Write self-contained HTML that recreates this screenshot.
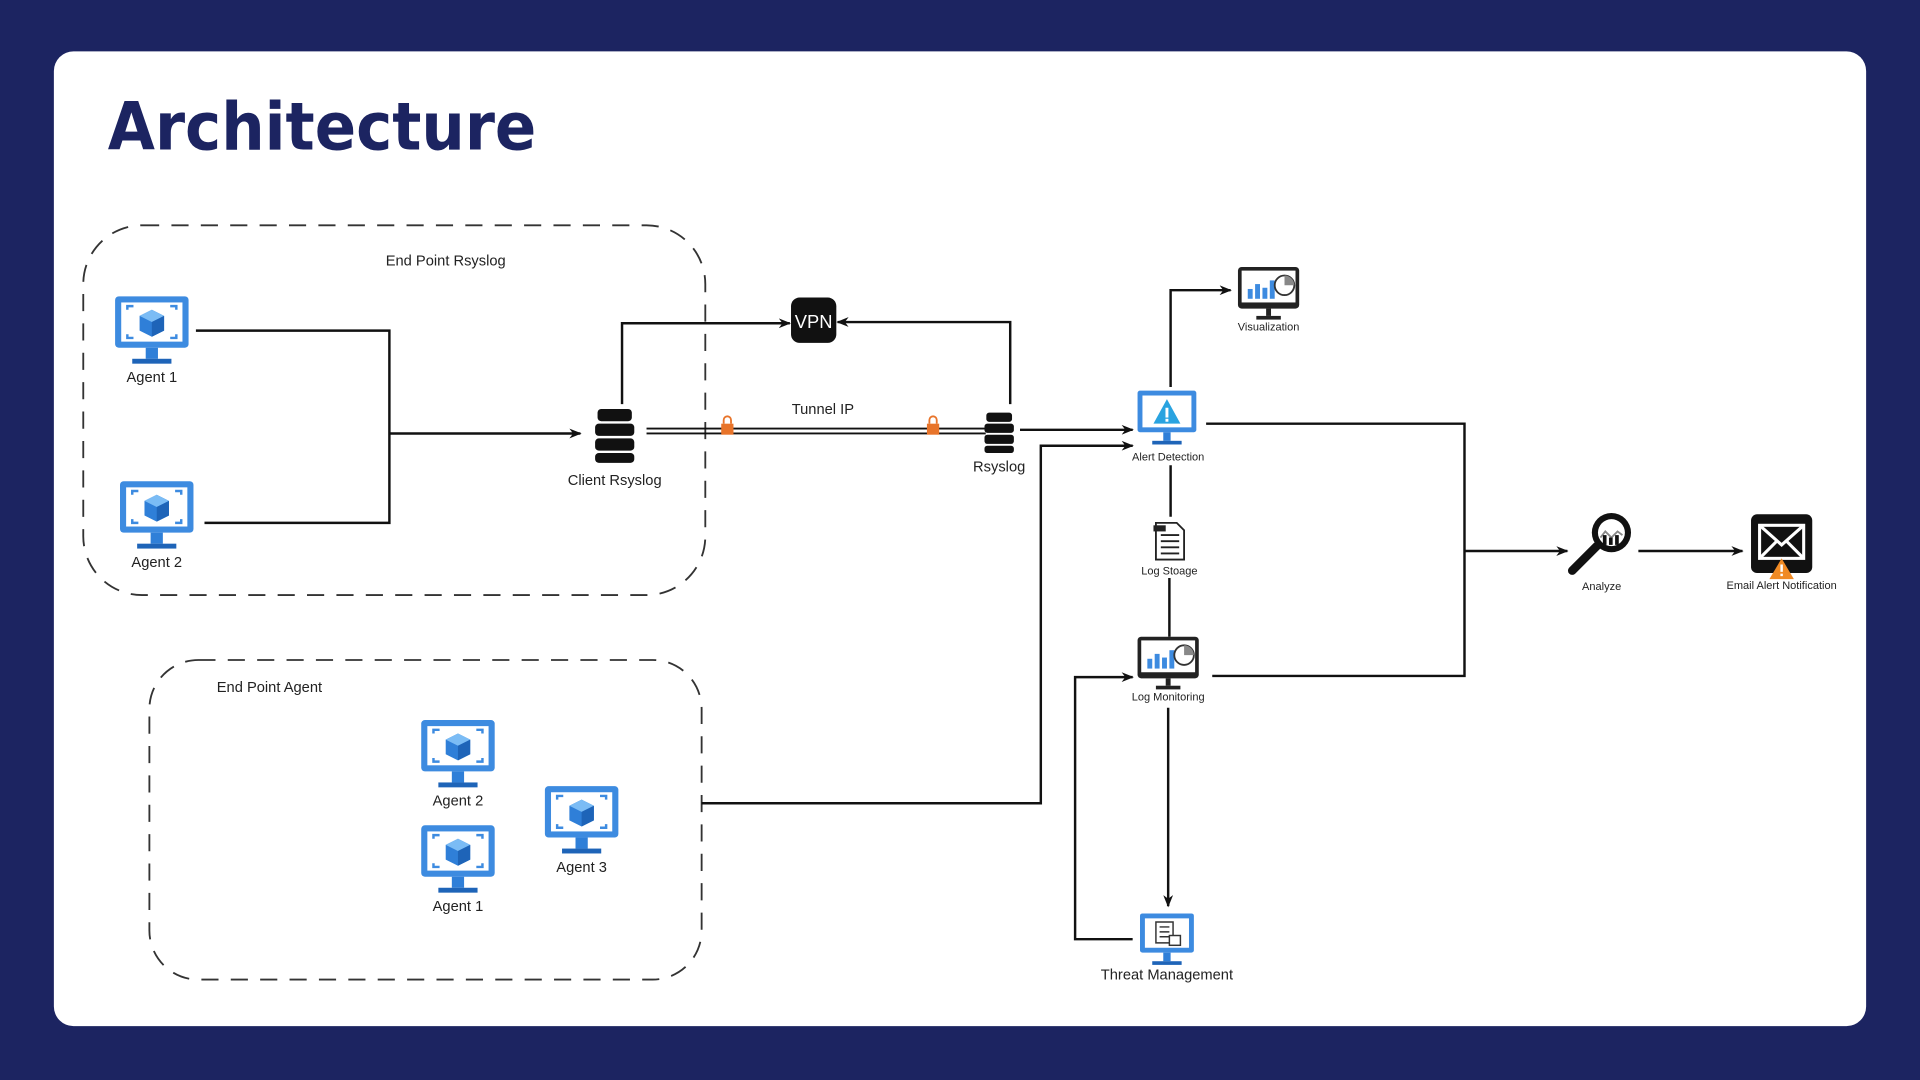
<!DOCTYPE html>
<html><head><meta charset="utf-8"><style>
html,body{margin:0;padding:0;width:1920px;height:1080px;overflow:hidden;background:#1c2461;}
svg{display:block}
text{font-family:"Liberation Sans",sans-serif;fill:#222}
</style></head><body>
<svg width="1920" height="1080" viewBox="0 0 1568 882" xmlns="http://www.w3.org/2000/svg">
<defs>
<marker id="ar" markerWidth="10" markerHeight="8" refX="9" refY="4" orient="auto" markerUnits="userSpaceOnUse"><path d="M0,0 L10,4 L0,8 L3,4 z" fill="#111"/></marker>
<g id="agent">
<rect x="-30" y="-28" width="60" height="42" rx="3" fill="#3d8be0"/>
<rect x="-25" y="-23" width="50" height="32" fill="#fff"/>
<path d="M-20,-17 v-3 h5 M15,-20 h5 v3 M-20,3 v3 h5 M15,6 h5 v-3" stroke="#3d8be0" stroke-width="2" fill="none"/>
<path d="M0,-17 L10,-12 L10,0 L0,5 L-10,0 L-10,-12 z" fill="#2f7fd8"/>
<path d="M0,-17 L10,-12 L0,-7 L-10,-12 z" fill="#7bbcf5"/>
<path d="M0,-7 L10,-12 L10,0 L0,5 z" fill="#1e64b8"/>
<rect x="-5" y="14" width="10" height="9" fill="#2f7fd8"/>
<rect x="-16" y="23" width="32" height="4" fill="#1e64b8"/>
</g>
<g id="server">
<rect x="-14" y="-20" width="28" height="10" rx="3" fill="#111"/>
<rect x="-16" y="-8" width="32" height="10" rx="3" fill="#111"/>
<rect x="-16" y="4" width="32" height="10" rx="3" fill="#111"/>
<rect x="-16" y="16" width="32" height="8" rx="3" fill="#111"/>
</g>
<g id="chartmon">
<rect x="-25" y="-20" width="50" height="34" rx="3" fill="#222"/>
<rect x="-22" y="-17" width="44" height="26" fill="#fff"/>
<rect x="-17" y="-2" width="4" height="8" fill="#3d8be0"/><rect x="-11" y="-6" width="4" height="12" fill="#3d8be0"/><rect x="-5" y="-3" width="4" height="9" fill="#3d8be0"/><rect x="1" y="-9" width="4" height="15" fill="#3d8be0"/>
<circle cx="13" cy="-5" r="8" fill="#fff" stroke="#333" stroke-width="1.5"/><path d="M13,-5 L13,-13 A8,8 0 0,1 21,-5 z" fill="#888"/>
<rect x="-2" y="14" width="4" height="6" fill="#222"/><rect x="-10" y="20" width="20" height="3" fill="#222"/>
</g>
</defs>
<rect x="44" y="42" width="1480" height="796" rx="16" fill="#fff"/>
<text x="88" y="122" font-size="54" font-weight="bold" textLength="350" lengthAdjust="spacingAndGlyphs" style="fill:#1c2461;font-family:'DejaVu Sans',sans-serif">Architecture</text>

<rect x="68" y="184" width="508" height="302" rx="48" fill="none" stroke="#333" stroke-width="1.5" stroke-dasharray="14,10"/>
<rect x="122" y="539" width="451" height="261" rx="40" fill="none" stroke="#333" stroke-width="1.5" stroke-dasharray="14,10"/>
<text x="315" y="217" font-size="12">End Point Rsyslog</text>
<text x="177" y="565" font-size="12">End Point Agent</text>

<g stroke="#111" stroke-width="2" fill="none">
<path d="M160,270 H318 V427 H167"/>
<path d="M318,354 H474" marker-end="url(#ar)"/>
<path d="M508,330 V264 H645" marker-end="url(#ar)"/>
<path d="M825,330 V263 H684" marker-end="url(#ar)"/>
<path d="M528,350 H805 M528,354 H805" stroke-width="1.5"/>
<path d="M833,351 H925" marker-end="url(#ar)"/>
<path d="M956,316 V237 H1005" marker-end="url(#ar)"/>
<path d="M985,346 H1196 V552 H990"/>
<path d="M1196,450 H1280" marker-end="url(#ar)"/>
<path d="M1338,450 H1423" marker-end="url(#ar)"/>
<path d="M956,380 V422 M955,472 V520"/>
<path d="M954,578 V740" marker-end="url(#ar)"/>
<path d="M925,767 H878 V553 H925" marker-end="url(#ar)"/>
<path d="M573,656 H850 V364 H925" marker-end="url(#ar)"/>
</g>

<use href="#agent" x="124" y="270"/><text x="124" y="312" font-size="12" text-anchor="middle">Agent 1</text>
<use href="#agent" x="128" y="421"/><text x="128" y="463" font-size="12" text-anchor="middle">Agent 2</text>
<use href="#agent" x="374" y="616"/><text x="374" y="658" font-size="12" text-anchor="middle">Agent 2</text>
<use href="#agent" x="374" y="702"/><text x="374" y="744" font-size="12" text-anchor="middle">Agent 1</text>
<use href="#agent" x="475" y="670"/><text x="475" y="712" font-size="12" text-anchor="middle">Agent 3</text>

<use href="#server" x="502" y="354"/><text x="502" y="396" font-size="12" text-anchor="middle">Client Rsyslog</text>
<g transform="translate(816,352) scale(0.75)"><use href="#server"/></g><text x="816" y="385" font-size="12" text-anchor="middle">Rsyslog</text>
<text x="672" y="338" font-size="12" text-anchor="middle">Tunnel IP</text>
<rect x="589" y="346" width="10" height="9" fill="#e8742a"/><path d="M591,346 v-3 a3,3 0 0,1 6,0 v3" stroke="#e8742a" fill="none" stroke-width="1.5"/>
<rect x="757" y="346" width="10" height="9" fill="#e8742a"/><path d="M759,346 v-3 a3,3 0 0,1 6,0 v3" stroke="#e8742a" fill="none" stroke-width="1.5"/>

<rect x="646" y="243" width="37" height="37" rx="7" fill="#111"/>
<text x="664.5" y="268" font-size="15" text-anchor="middle" style="fill:#fff">VPN</text>

<use href="#chartmon" x="1036" y="238"/><text x="1036" y="270" font-size="9" text-anchor="middle">Visualization</text>

<g transform="translate(953,340)">
<rect x="-24" y="-21" width="48" height="34" rx="2" fill="#3d8be0"/>
<rect x="-20" y="-17" width="40" height="26" fill="#fff"/>
<path d="M0,-14 L11,6 H-11 z" fill="#29a3e0"/><rect x="-1.2" y="-7" width="2.4" height="8" fill="#fff"/><rect x="-1.2" y="2" width="2.4" height="2.4" fill="#fff"/>
<rect x="-3" y="13" width="6" height="7" fill="#2f7fd8"/><rect x="-12" y="20" width="24" height="3" fill="#1e64b8"/>
</g>
<text x="954" y="376" font-size="9" text-anchor="middle">Alert Detection</text>

<g transform="translate(955,442)">
<path d="M-11,-15 H6 L12,-9 V15 H-11 z" fill="#fff" stroke="#222" stroke-width="1.5"/>
<path d="M-7,-5 H8 M-7,0 H8 M-7,5 H8 M-7,10 H8" stroke="#222" stroke-width="1.5"/>
<rect x="-13" y="-13" width="10" height="5" fill="#222"/>
</g>
<text x="955" y="469" font-size="9" text-anchor="middle">Log Stoage</text>

<use href="#chartmon" x="954" y="540"/><text x="954" y="572" font-size="9" text-anchor="middle">Log Monitoring</text>

<g transform="translate(953,765)">
<rect x="-22" y="-19" width="44" height="32" rx="2" fill="#3d8be0"/>
<rect x="-18" y="-15" width="36" height="24" fill="#fff"/>
<path d="M-9,-12 H5 V5 H-9 z M-6,-8 H2 M-6,-4 H2 M-6,0 H2" stroke="#333" stroke-width="1.2" fill="none"/>
<rect x="2" y="-1" width="9" height="8" fill="#fff" stroke="#333" stroke-width="1.2"/>
<rect x="-3" y="13" width="6" height="7" fill="#2f7fd8"/><rect x="-12" y="20" width="24" height="3" fill="#1e64b8"/>
</g>
<text x="953" y="800" font-size="12" text-anchor="middle">Threat Management</text>

<g transform="translate(1310,443)">
<circle cx="6" cy="-8" r="16" fill="#111"/><circle cx="6" cy="-8" r="11" fill="#fff"/>
<path d="M-3,-4 L1,-9 L6,-4 L11,-9 L15,-6" stroke="#888" fill="none" stroke-width="1.5"/>
<rect x="-1" y="-6" width="3" height="8" fill="#111"/><rect x="4" y="-4" width="3" height="6" fill="#111"/><rect x="9" y="-6" width="3" height="8" fill="#111"/>
<path d="M-6,3 L-26,23" stroke="#111" stroke-width="7" stroke-linecap="round"/>
</g>
<text x="1308" y="482" font-size="9" text-anchor="middle">Analyze</text>

<g transform="translate(1455,445)">
<rect x="-25" y="-25" width="50" height="48" rx="5" fill="#111"/>
<rect x="-18" y="-16" width="36" height="27" fill="none" stroke="#fff" stroke-width="2.5"/>
<path d="M-18,-16 L0,0 L18,-16 M-18,11 L-4,-3 M18,11 L4,-3" stroke="#fff" stroke-width="2.5" fill="none"/>
<path d="M0,11 L10,28 H-10 z" fill="#f08a24"/><rect x="-1" y="16" width="2" height="6" fill="#fff"/><rect x="-1" y="23.5" width="2" height="2" fill="#fff"/>
</g>
<text x="1455" y="481" font-size="9" text-anchor="middle">Email Alert Notification</text>
</svg>
</body></html>
